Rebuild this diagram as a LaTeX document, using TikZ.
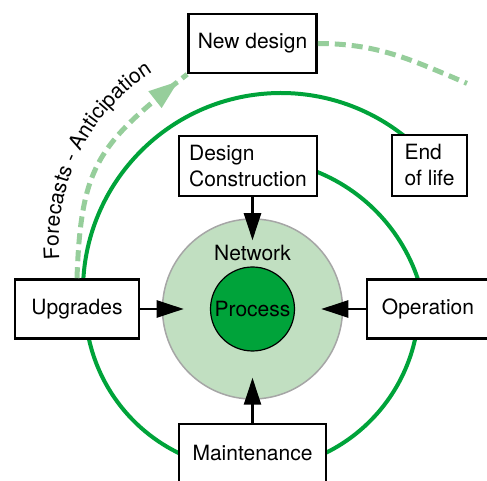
\documentclass[tikz,border=0pt]{standalone}
\usepackage{xcolor}
\usepackage{tikz}
\usepackage{fontspec}
\setmainfont{TeX Gyre Heros}
\usetikzlibrary{positioning}
\usetikzlibrary{shapes,arrows,calc,arrows.meta}
\usetikzlibrary{decorations.markings,decorations.text}

\definecolor{ringgreen}{RGB}{0,163,58}
\definecolor{netgreen}{RGB}{193,223,193}
\definecolor{fcgreen}{RGB}{150,206,155}
\newcommand{\stagefont}{\fontsize{21}{26}\selectfont}

\begin{document}
\begin{tikzpicture}[x=1pt,y=1pt,
  stage/.style={draw, line width=2.6pt, fill=white, minimum height=59pt, inner sep=0pt, align=left, font=\stagefont},
  ring/.style={ringgreen, line width=4pt},
  feed/.style={-{Triangle[length=27pt,width=17pt]}, line width=2.6pt, shorten >=-22pt},
  fcast/.style={fcgreen, line width=5pt, dash pattern=on 11pt off 6pt}]
  \useasboundingbox (-252.5,-172) rectangle (234.5,309);

  % Centres of the arcs of the life cycle
  \coordinate (inner) at (-1.5,-26);
  \coordinate (mid) at (-0.5,6);
  \coordinate (outer) at (28.5,18);
  \coordinate (fc) at (7.3,66.7);

  % Draw the life cycle (ends are hidden under the boxes)
  \draw[ring] ([shift={(70:176pt)}]inner) arc[start angle=70, end angle=15, radius=176pt];
  \draw[ring] ([shift={(5:167pt)}]mid) arc[start angle=5, end angle=-185, radius=167pt];
  \draw[ring] ([shift={(183:198pt)}]outer) arc[start angle=183, end angle=48, radius=198pt];

  % Network and process
  \node[circle, fill=netgreen, draw=gray!70, line width=1.5pt, minimum size=180pt] (net) at (0,0) {};
  \node[circle, fill=ringgreen, draw, line width=1.2pt, minimum size=84pt, inner sep=0pt, font=\stagefont] (proc) at (0,0) {Process};
  \node[font=\stagefont] (netlbl) at (0,56) {Network};

  % Stages
  \node[stage, minimum width=128pt] (nd) at (0,265.5) {New design};
  \node[stage, minimum width=138pt, minimum height=60pt] (dc) at (-4.5,143) {Design\\Construction};
  \node[stage, minimum width=75pt, minimum height=61pt] (eol) at (177,143.5) {End\\of life};
  \node[stage, minimum width=124pt] (upg) at (-175.5,0) {Upgrades};
  \node[stage, minimum width=122pt] (op) at (175.5,0) {Operation};
  \node[stage, minimum width=147pt] (mnt) at (0,-144.5) {Maintenance};

  % Arrows into the network
  \draw[feed] (net.north |- dc.south) -- (net.north);
  \draw[feed] (upg.east) -- (net.west);
  \draw[feed] (op.west) -- (net.east);
  \draw[feed] (mnt.north) -- (net.south);

  % Forecasts
  \draw[fcast, postaction={decorate, decoration={markings,
      mark=at position 0.955 with {\arrow{Triangle[length=30pt,width=20pt]}}}}]
    (upg.north) to[out=88, in=218, looseness=1.25] (nd.south west);
  \coordinate (tail) at (214.5,225.6);
  \draw[fcast] (nd.east) to[out=0, in=157] (tail);
  \path[decorate, decoration={text along path, text align=center,
      text={|\stagefont|Forecasts - Anticipation}}]
    ([shift={(190:201pt)}]fc) arc[start angle=190, end angle=117, radius=201pt];
\end{tikzpicture}
\end{document}
